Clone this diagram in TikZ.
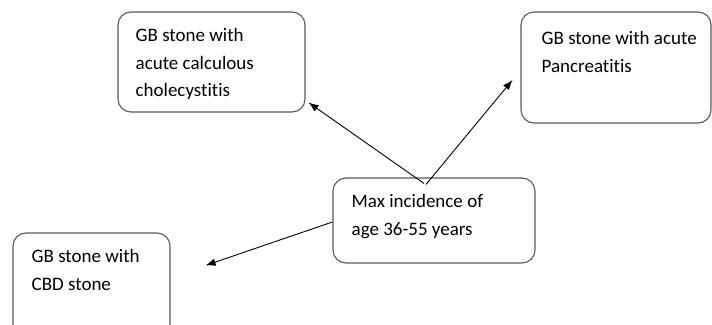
\documentclass[tikz,border=0pt]{standalone}
\usepackage{fontspec}
\setmainfont{Carlito}[Ligatures=NoCommon]
\usetikzlibrary{arrows.meta}

\begin{document}
\begin{tikzpicture}[x=1pt,y=-1pt,
    box/.style={draw=black!65,line width=1.1pt,rounded corners=13pt,inner sep=0pt},
    txt/.style={anchor=north west,align=left,inner sep=0pt,
      font=\fontsize{19}{27.5}\selectfont},
    arr/.style={-{Latex[length=10pt,width=7.5pt]},line width=0.9pt}]
  \clip (0,0) rectangle (712,324);
  \node[box,minimum width=187pt,minimum height=100pt] (chole) at (211.5,62) {};
  \node[txt] at ([xshift=18pt,yshift=-17pt]chole.north west)
    {GB stone with\\acute calculous\\cholecystitis};
  \node[box,minimum width=190pt,minimum height=111pt] (panc) at (616,67.5) {};
  \node[txt] at ([xshift=21pt,yshift=-20pt]panc.north west)
    {GB stone with acute\\Pancreatitis};
  \node[box,minimum width=202pt,minimum height=85pt] (inc) at (434,220.5) {};
  \node[txt] at ([xshift=19pt,yshift=-17pt]inc.north west)
    {Max incidence of\\age 36-55 years};
  \node[box,minimum width=157pt,minimum height=107pt] (cbd) at (91.5,286.5) {};
  \node[txt] at ([xshift=19pt,yshift=-17pt]cbd.north west)
    {GB stone with\\CBD stone};
  \draw[arr] ([xshift=-10pt,yshift=-6pt]inc.north) -- ([xshift=3pt,yshift=10pt]chole.south east);
  \draw[arr] ([xshift=-8pt,yshift=-7pt]inc.north) -- ([xshift=-8pt,yshift=-12.5pt]panc.west);
  \draw[arr] ([yshift=-1.5pt]inc.west) -- ([xshift=35pt,yshift=-33pt]cbd.north east);
\end{tikzpicture}
\end{document}
